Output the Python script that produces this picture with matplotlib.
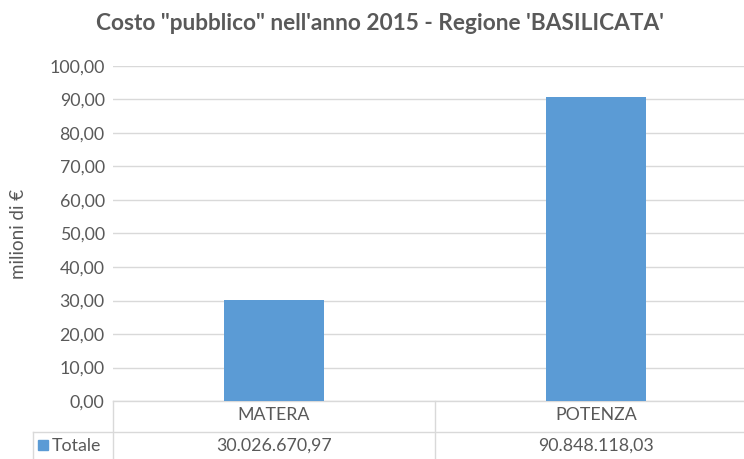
import matplotlib
matplotlib.use("Agg")
import matplotlib.pyplot as plt
import matplotlib.transforms as mtransforms
from matplotlib.patches import Rectangle

categories = ["MATERA", "POTENZA"]
values_eur = [30026670.97, 90848118.03]
series_name = "Totale"
title = "Costo \"pubblico\" nell'anno 2015 - Regione 'BASILICATA'"
ylabel = "milioni di €"
yticks = [0, 10, 20, 30, 40, 50, 60, 70, 80, 90, 100]

def it_fmt(v, dec=2):
    s = f"{v:,.{dec}f}"
    return s.replace(",", "X").replace(".", ",").replace("X", ".")

values_mil = [v / 1e6 for v in values_eur]

W, H = 744, 459
fig = plt.figure(figsize=(W / 100, H / 100), dpi=100)
plt.rcParams['font.family'] = ['Lato', 'DejaVu Sans']
txt = "#595959"
grid = "#d9d9d9"
bar_c = "#5b9bd5"

ax = fig.add_axes([113 / W, 1 - 401 / H, (757 - 113) / W, (401 - 66) / H])
x = list(range(len(categories)))
ax.bar(x, values_mil, width=0.31, color=bar_c, zorder=3)
ax.set_xlim(-0.5, len(categories) - 0.5)
ax.set_ylim(0, 100)
ax.set_yticks(yticks)
ax.set_yticklabels([it_fmt(t) for t in yticks], fontsize=12.8, color=txt)
ax.tick_params(axis='y', length=0, pad=6)
ax.set_xticks([])
ax.grid(axis='y', color=grid, linewidth=1, zorder=0)
for s in ["top", "right", "left", "bottom"]:
    ax.spines[s].set_visible(False)

fig.text(19 / W, 1 - 234 / H, ylabel, rotation=90, ha='center', va='center',
         fontsize=13.5, color=txt)
fig.text(380 / W, 1 - 24 / H, title, ha='center', va='center',
         fontsize=16.3, fontweight='bold', color=txt)

# data table
tr = mtransforms.blended_transform_factory(ax.transData, fig.transFigure)
def fy(py):
    return 1 - py / H
lw = 1
ax.plot([-0.5, len(categories) - 0.5], [fy(401)] * 2, color=grid, lw=lw, transform=tr, clip_on=False)
fig.add_artist(plt.Line2D([33 / W, 1.0], [fy(432)] * 2, color=grid, lw=lw))
for b in [-0.5 + i for i in range(len(categories) + 1)]:
    ax.plot([b, b], [fy(401), fy(470)], color=grid, lw=lw, transform=tr, clip_on=False)
fig.add_artist(plt.Line2D([33 / W, 33 / W], [fy(432), fy(470)], color=grid, lw=lw))

for i, (c, v) in enumerate(zip(categories, values_eur)):
    ax.text(i, fy(415), c, transform=tr, ha='center', va='center', fontsize=12.8, color=txt, clip_on=False)
    ax.text(i, fy(446), it_fmt(v), transform=tr, ha='center', va='center', fontsize=12.8, color=txt, clip_on=False)

fig.add_artist(Rectangle((38 / W, fy(450)), 10 / W, 10 / H, color=bar_c, transform=fig.transFigure))
fig.text(52 / W, fy(446), series_name, ha='left', va='center', fontsize=12.8, color=txt)

fig.savefig("out.png", dpi=100)
